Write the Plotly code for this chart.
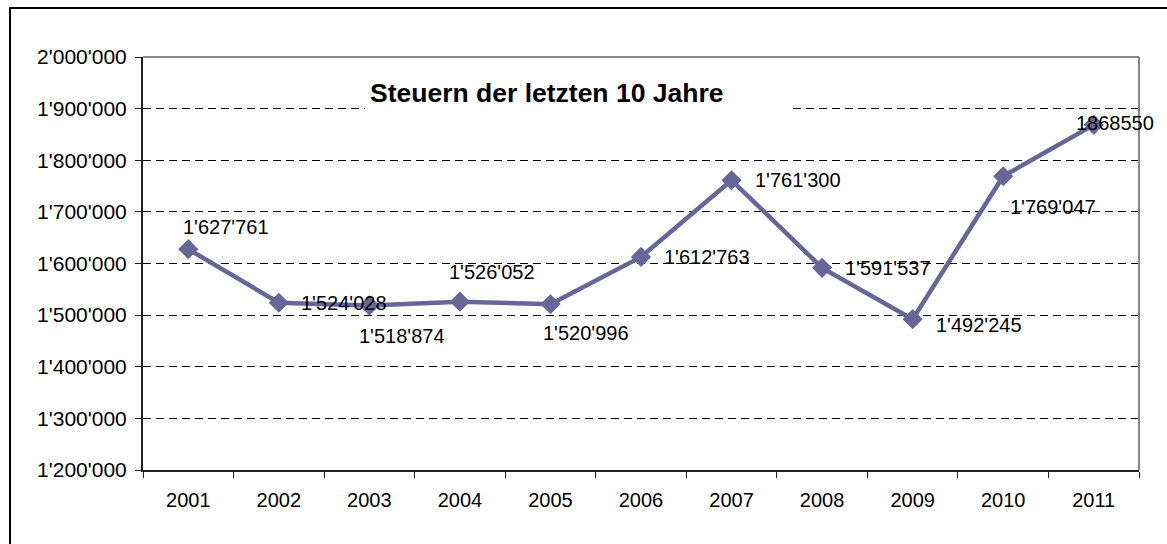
import plotly.graph_objects as go

# ---- data ----
years = ["2001", "2002", "2003", "2004", "2005", "2006", "2007", "2008", "2009", "2010", "2011"]
steuern = [1627761, 1524028, 1518874, 1526052, 1520996, 1612763, 1761300, 1591537, 1492245, 1769047, 1868550]
label_texts = ["1'627'761", "1'524'028", "1'518'874", "1'526'052", "1'520'996", "1'612'763",
               "1'761'300", "1'591'537", "1'492'245", "1'769'047", "1868550"]
y_tickvals = [1200000, 1300000, 1400000, 1500000, 1600000, 1700000, 1800000, 1900000, 2000000]
y_ticktext = ["1'200'000", "1'300'000", "1'400'000", "1'500'000", "1'600'000",
              "1'700'000", "1'800'000", "1'900'000", "2'000'000"]
title_text = "Steuern der letzten 10 Jahre"

# label offsets (pixels) relative to each point: (dx, dy down)
label_offsets = [(38, -22), (65, 0), (33, 31), (32, -30), (36, 29), (66, 0),
                 (66, 0), (66, 0), (66, 6), (50, 31), (21, -2)]

W, H = 1167, 544
L, R, T, B = 143, 28, 57, 74
PW, PH = W - L - R, H - T - B

def px(x):
    return (x - L) / PW

def py(y):
    return (H - B - y) / PH

FONT = "Liberation Sans, Arial, sans-serif"
LINE_COLOR = "#666699"

fig = go.Figure()
fig.add_trace(go.Scatter(
    x=years, y=steuern, mode="lines+markers",
    line=dict(color=LINE_COLOR, width=4.5),
    marker=dict(symbol="diamond", size=15.5, color=LINE_COLOR),
    hoverinfo="skip", showlegend=False,
))

annotations = []
for i, (v, t, (dx, dy)) in enumerate(zip(steuern, label_texts, label_offsets)):
    annotations.append(dict(
        x=i, y=v, xref="x", yref="y", text=t, showarrow=False,
        xshift=dx, yshift=-dy, font=dict(family=FONT, size=20, color="#000"),
        xanchor="center", yanchor="middle",
    ))

annotations.append(dict(
    x=px(546.5), y=py(93), xref="paper", yref="paper", text="<b>" + title_text + "</b>",
    showarrow=False, xanchor="center", yanchor="middle",
    font=dict(family=FONT, size=26.5, color="#000"),
))

shapes = [
    # outer chart frame
    dict(type="rect", xref="paper", yref="paper", x0=px(10), x1=px(1200), y0=py(580), y1=py(8),
         line=dict(color="#000", width=2), fillcolor="rgba(0,0,0,0)", layer="above"),
    # plot area top & right border (gray)
    dict(type="line", xref="paper", yref="paper", x0=0, x1=1, y0=1, y1=1,
         line=dict(color="#888", width=2), layer="above"),
    dict(type="line", xref="paper", yref="paper", x0=1, x1=1, y0=0, y1=1,
         line=dict(color="#888", width=2), layer="above"),
    # white box behind title
    dict(type="rect", xref="paper", yref="paper", x0=px(365), x1=px(788), y0=py(124), y1=py(76),
         line=dict(width=0), fillcolor="white", layer="above"),
]

fig.update_layout(
    width=W, height=H,
    margin=dict(l=L, r=R, t=T, b=B, pad=0),
    paper_bgcolor="white", plot_bgcolor="white",
    font=dict(family=FONT, size=20, color="#000"),
    annotations=annotations, shapes=shapes,
    showlegend=False,
)
fig.update_xaxes(
    type="category", range=[-0.5, 10.5], tickson="boundaries",
    ticks="outside", ticklen=6, tickwidth=1, tickcolor="#222",
    showline=True, linecolor="#222", linewidth=2,
    showgrid=False, tickfont=dict(family=FONT, size=20, color="#000"),
    ticklabelstandoff=11,
)
fig.update_yaxes(
    range=[1200000, 2000000], tickvals=y_tickvals, ticktext=y_ticktext,
    ticks="outside", ticklen=6, tickwidth=1, tickcolor="#222",
    showline=True, linecolor="#222", linewidth=2,
    showgrid=True, gridcolor="#000", gridwidth=1, griddash="8px,5px",
    zeroline=False, tickfont=dict(family=FONT, size=21, color="#000"),
    ticklabelstandoff=4,
)

fig.write_html("out.html", config={"displayModeBar": False},
               post_script="document.body.style.margin='0px';")
